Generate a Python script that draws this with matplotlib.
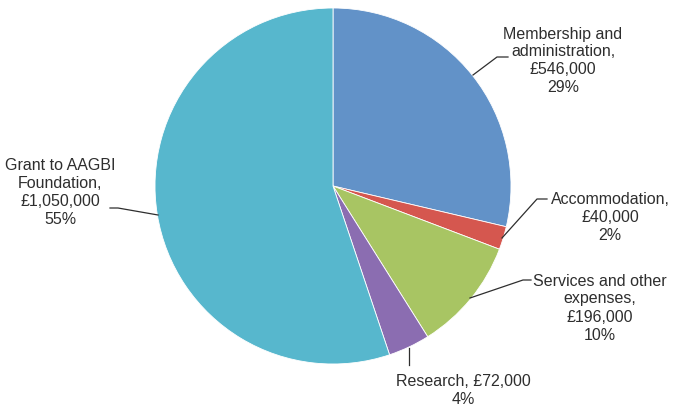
import matplotlib.pyplot as plt

# spending breakdown
labels = ['Membership and\nadministration,\n£546,000\n29%',
          'Accommodation,\n£40,000\n2%',
          'Services and other\nexpenses,\n£196,000\n10%',
          'Research, £72,000\n4%',
          'Grant to AAGBI\nFoundation,\n£1,050,000\n55%']
values = [546000, 40000, 196000, 72000, 1050000]
colors = ['#6292c8', '#d5574f', '#a8c563', '#8b6db1', '#57b7cd']

W, H = 685, 405
fig = plt.figure(figsize=(W / 100, H / 100), dpi=100)
ax = fig.add_axes([0, 0, 1, 1])

cx, cy, r = 333, H - 186, 178
ax.pie(values, colors=colors, startangle=90, counterclock=False,
       center=(cx, cy), radius=r, frame=True,
       wedgeprops=dict(linewidth=0.6, edgecolor='white'))
ax.set_xlim(0, W)
ax.set_ylim(0, H)
ax.axis('off')

txt = dict(fontsize=11.5, color='#2e2e2e', ha='center', va='center',
           linespacing=1.25, family=['Liberation Sans', 'DejaVu Sans'])

# label positions and leader lines (pixel coords from top)
lab_pos = [(563, 61), (610, 218), (600, 308), (463, 391), (60, 192)]
leaders = [[(473, 75), (497, 57), (508, 57)],
           [(502, 238), (537, 199), (547, 199)],
           [(470, 298), (523, 280), (531, 280)],
           [(409, 348), (409, 365)],
           [(158, 215), (118, 208), (110, 208)]]

for lab, (x, y), pts in zip(labels, lab_pos, leaders):
    ax.text(x, H - y, lab, **txt)
    ax.plot([p[0] for p in pts], [H - p[1] for p in pts],
            color='#2e2e2e', lw=0.9)

fig.savefig('out.png', dpi=100)
